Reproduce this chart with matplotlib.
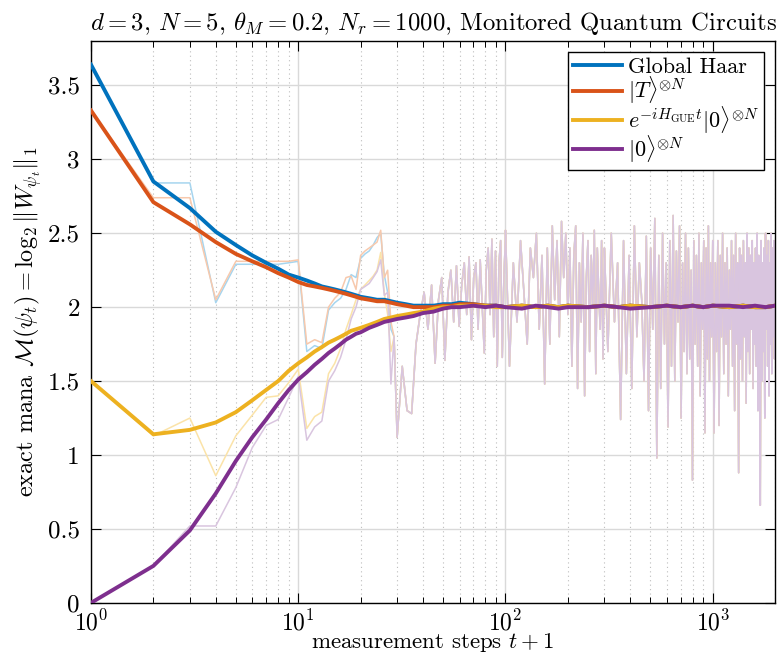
import matplotlib
matplotlib.use("Agg")
import matplotlib.pyplot as plt
import numpy as np
from matplotlib.ticker import LogLocator, FixedLocator, FuncFormatter, NullFormatter

plt.rcParams['font.family'] = ['cmr10', 'DejaVu Serif']
plt.rcParams['mathtext.fontset'] = 'cm'
plt.rcParams['axes.unicode_minus'] = False
plt.rcParams['axes.formatter.use_mathtext'] = True

# averaged curves (thick lines), t+1
t_avg = [1, 2, 3, 4, 5, 6, 7, 8, 9, 10, 11, 12, 13, 14, 15, 16, 17, 18, 19, 20,
         22, 24, 26, 28, 30, 33, 36, 40, 45, 50, 55, 60, 70, 80, 90, 100,
         120, 140, 160, 180, 200, 250, 300, 350, 400, 500, 600, 700, 800, 900, 1000,
         1200, 1400, 1600, 1800, 2000]
haar_avg = [3.64, 2.85, 2.67, 2.51, 2.42, 2.35, 2.30, 2.26, 2.22, 2.20,
            2.18, 2.16, 2.14, 2.13, 2.12, 2.11, 2.10, 2.09, 2.08, 2.07,
            2.06, 2.05, 2.05, 2.04, 2.03, 2.02, 2.01, 2.01, 2.01, 2.02, 2.02, 2.03,
            2.02, 2.01, 2.01, 2.00, 2.01, 2.00, 2.01, 2.00, 2.01, 2.00, 2.01, 2.00, 2.01,
            2.00, 2.01, 2.00, 2.01, 2.00, 2.01, 2.00, 2.01, 2.00, 2.00, 2.01]
tstate_avg = [3.33, 2.71, 2.56, 2.44, 2.36, 2.31, 2.27, 2.23, 2.20, 2.17,
              2.15, 2.14, 2.13, 2.12, 2.11, 2.10, 2.09, 2.08, 2.07, 2.06,
              2.05, 2.04, 2.04, 2.03, 2.02, 2.01, 2.00, 2.00, 2.00, 2.01, 2.01, 2.02,
              2.02, 2.01, 2.01, 2.00, 2.01, 2.00, 2.01, 2.00, 2.01, 2.00, 2.01, 2.00, 2.01,
              2.00, 2.01, 2.00, 2.01, 2.00, 2.01, 2.00, 2.01, 2.00, 2.00, 2.01]
gue_avg = [1.50, 1.14, 1.17, 1.22, 1.29, 1.37, 1.44, 1.50, 1.57, 1.62,
           1.66, 1.70, 1.73, 1.76, 1.78, 1.80, 1.82, 1.84, 1.85, 1.86,
           1.88, 1.90, 1.92, 1.93, 1.94, 1.95, 1.96, 1.97, 1.99, 2.00, 2.00, 2.01,
           2.01, 2.01, 2.00, 2.00, 2.01, 2.00, 2.01, 2.00, 2.01, 2.00, 2.01, 2.00, 2.01,
           2.00, 2.01, 2.00, 2.01, 2.00, 2.01, 2.00, 2.01, 2.00, 2.00, 2.01]
zero_avg = [0.00, 0.25, 0.49, 0.74, 0.96, 1.12, 1.24, 1.35, 1.44, 1.51,
            1.56, 1.61, 1.65, 1.69, 1.72, 1.75, 1.78, 1.80, 1.82, 1.83,
            1.86, 1.88, 1.90, 1.91, 1.92, 1.93, 1.94, 1.96, 1.97, 1.99, 2.00, 2.00,
            2.01, 2.00, 2.01, 2.00, 1.99, 2.01, 2.00, 1.99, 2.00, 2.00, 2.01, 2.00, 1.99,
            2.00, 2.01, 2.00, 2.01, 2.00, 2.01, 2.01, 2.00, 2.01, 2.00, 2.01]

# single trajectories (faint lines), early part t+1 = 1..29
t_early = list(range(1, 30))
haar_one = [3.64, 2.84, 2.84, 2.03, 2.29, 2.29, 2.29, 2.29, 2.30, 2.31,
            1.70, 1.74, 1.72, 1.98, 2.03, 2.06, 2.12, 2.22, 2.20, 2.33,
            2.36, 2.38, 2.42, 2.47, 2.50, 2.22, 2.10, 1.85, 1.80]
tstate_one = [3.33, 2.74, 2.74, 2.05, 2.31, 2.31, 2.31, 2.31, 2.31, 2.32,
              1.75, 1.78, 1.76, 2.00, 2.06, 2.10, 2.20, 2.21, 2.12, 2.35,
              2.38, 2.40, 2.42, 2.44, 2.52, 2.20, 2.25, 1.90, 1.80]
gue_one = [1.50, 1.13, 1.25, 0.86, 1.13, 1.27, 1.39, 1.40, 1.49, 1.58,
           1.18, 1.26, 1.29, 1.55, 1.62, 1.72, 1.85, 1.95, 2.05, 2.12,
           2.15, 2.18, 2.21, 2.25, 2.37, 2.10, 1.95, 1.70, 1.80]
zero_one = [0.00, 0.25, 0.52, 0.52, 0.78, 1.05, 1.20, 1.24, 1.39, 1.53,
            1.10, 1.19, 1.23, 1.50, 1.57, 1.66, 1.78, 1.92, 2.00, 2.12,
            2.14, 2.16, 2.20, 2.24, 2.32, 2.08, 2.10, 1.48, 1.80]

# late part of the trajectory (shared by all initial states), in four time windows
late_a = [1.12, 1.60, 1.30, 1.28, 1.75, 1.95, 2.10, 1.85, 2.15, 1.62, 2.05, 2.20,
          1.64, 2.10, 2.25, 1.90, 2.28, 1.87, 2.15, 2.30, 1.95, 2.34, 1.78, 2.20,
          2.30, 1.85, 2.32, 2.00, 1.69, 2.25, 2.40, 1.95, 2.46, 1.80, 2.38, 1.60,
          2.30, 2.45, 1.66, 2.20, 2.48]
late_b = [2.52, 1.60, 2.30, 1.90, 2.45, 2.10, 1.75, 2.40, 2.20, 2.50, 1.85, 2.35,
          1.48, 2.40, 1.75, 2.55, 2.05, 2.45, 1.80, 2.58, 2.20, 2.50, 1.95, 2.40,
          1.60, 2.35, 2.55, 1.45, 2.30, 1.90, 2.50, 1.40, 2.20, 2.45, 1.70, 2.35,
          2.00, 2.52, 1.55, 2.40, 2.10, 1.85, 2.45, 1.65, 2.30]
late_c = [2.40, 1.70, 2.50, 1.90, 2.30, 1.24, 2.45, 1.55, 2.35, 1.45, 2.55, 1.80,
          2.30, 2.05, 1.50, 2.48, 1.30, 2.40, 1.85, 2.60, 0.98, 2.35, 1.45, 2.50,
          1.75, 2.30, 1.19, 2.45, 1.60, 2.62, 1.50, 2.38, 1.90, 2.55, 1.25, 2.30,
          1.70, 2.50, 1.55, 2.40, 1.65, 2.25, 0.83, 2.45, 1.75, 2.35, 1.60, 2.50,
          1.40, 2.30, 1.85, 2.45, 1.15, 2.40, 1.65, 2.55, 1.50, 2.30, 1.80, 2.45]
late_d = [2.40, 1.15, 2.30, 1.70, 2.45, 1.20, 2.35, 1.80, 2.50, 1.55, 2.30, 1.75,
          2.40, 1.40, 2.25, 1.85, 2.45, 1.60, 2.35, 1.30, 2.50, 1.75, 2.30, 0.88,
          2.40, 1.65, 2.35, 1.50, 2.45, 1.80, 2.30, 1.35, 2.50, 1.70, 2.40, 1.55,
          2.35, 1.85, 2.45, 1.45, 2.30, 1.75, 2.40, 1.60, 2.50, 1.30, 2.35, 1.80,
          0.66, 2.45, 1.50, 2.30, 1.70, 2.40, 1.25, 2.50, 1.85, 2.35, 1.60, 2.45,
          1.40, 2.30, 1.75, 2.50, 1.55, 2.40, 1.80, 2.45, 1.65, 2.40]
windows = [(30, 100, late_a), (100, 300, late_b), (300, 1000, late_c), (1000, 2000, late_d)]

labels = ['Global Haar', r'$|T\rangle^{\otimes N}$',
          r'$e^{-iH_{\mathrm{GUE}}t}|0\rangle^{\otimes N}$', r'$|0\rangle^{\otimes N}$']
colors = ['#0072BD', '#D95319', '#EDB120', '#7E2F8E']
faint = ['#a6d5ef', '#f7c9ad', '#fbe3a8', '#d9c5df']

late_t = np.concatenate([np.linspace(a, b, len(v)) for a, b, v in windows])
late_y = np.concatenate([v for a, b, v in windows])

fig = plt.figure(figsize=(7.81, 6.56), dpi=100)
ax = fig.add_axes([0.1165, 0.081, 0.876, 0.8565])

for one, c in zip([haar_one, tstate_one, gue_one, zero_one], faint):
    ax.plot(np.r_[t_early, late_t], np.r_[one, late_y], color=c, lw=1.1, zorder=2)

for avg, c, lab in zip([haar_avg, tstate_avg, gue_avg, zero_avg], colors, labels):
    ax.plot(t_avg, avg, color=c, lw=2.8, label=lab, zorder=3)

ax.set_xscale('log')
ax.set_xlim(1, 2000)
ax.set_ylim(0, 3.8)
ax.yaxis.set_major_locator(FixedLocator([0, 0.5, 1, 1.5, 2, 2.5, 3, 3.5]))
ax.yaxis.set_major_formatter(FuncFormatter(lambda v, p: '%g' % v))
ax.xaxis.set_major_locator(LogLocator(base=10, numticks=10))
ax.xaxis.set_minor_locator(LogLocator(base=10, subs=np.arange(2, 10), numticks=20))
ax.xaxis.set_minor_formatter(NullFormatter())

ax.grid(True, which='major', color='#d9d9d9', lw=1.0, zorder=0)
ax.grid(True, which='minor', axis='x', color='#bdbdbd', lw=0.8, ls=(0, (1, 3)), zorder=0)
ax.set_axisbelow(True)
ax.tick_params(which='both', direction='in', top=True, right=True, colors='black')
ax.tick_params(axis='y', which='major', labelsize=18, pad=8)
ax.tick_params(axis='x', which='major', labelsize=17, pad=5)
ax.tick_params(which='major', length=7, width=0.8)
ax.tick_params(which='minor', length=4, width=0.7)
for s in ax.spines.values():
    s.set_linewidth(1.0)

ax.set_xlabel(r'measurement steps $t+1$', fontsize=16.5, labelpad=-3)
ax.set_ylabel(r'exact mana $\mathcal{M}(\psi_t)=\log_2\Vert W_{\psi_t}\Vert_1$', fontsize=17.5, labelpad=3)
ax.set_title(r'$d=3$, $N=5$, $\theta_M=0.2$, $N_r=1000$, Monitored Quantum Circuits',
             fontsize=17.8, pad=8)

leg = ax.legend(loc='upper right', fontsize=16, frameon=True, fancybox=False,
                edgecolor='black', framealpha=1, handlelength=2.2, borderaxespad=0.5,
                labelspacing=-0.12, handletextpad=0.25, borderpad=0.25)
leg.get_frame().set_linewidth(1.0)

fig.savefig('out.png', dpi=100, facecolor='white')
